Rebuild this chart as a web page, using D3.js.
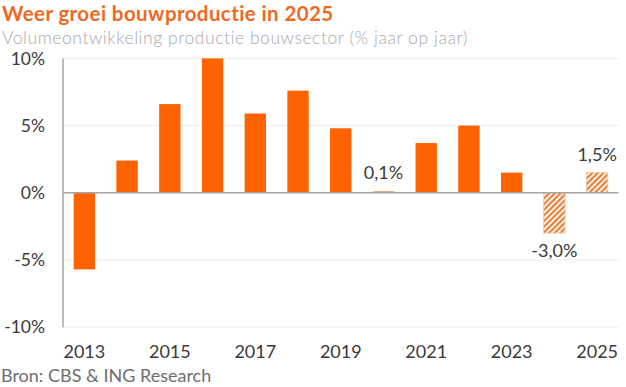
<!DOCTYPE html>
<html>
<head>
<meta charset="utf-8">
<script src="https://cdn.jsdelivr.net/npm/d3@7"></script>
<style>
  html, body { margin: 0; padding: 0; background: #fff; }
  svg { display: block; }
</style>
</head>
<body>
<svg id="chart" width="626" height="387"></svg>
<script>
const years = ["2013","2014","2015","2016","2017","2018","2019","2020","2021","2022","2023","2024","2025"];
const values = [-5.7, 2.4, 6.6, 10.0, 5.9, 7.6, 4.8, 0.1, 3.7, 5.0, 1.5, -3.0, 1.5];
const forecastYears = ["2024", "2025"];
const labelYears = ["2020", "2024", "2025"];
const labelTexts = ["0,1%", "-3,0%", "1,5%"];
const yTicks = [-10, -5, 0, 5, 10];
const xTickYears = ["2013","2015","2017","2019","2021","2023","2025"];
const title = "Weer groei bouwproductie in 2025";
const subtitle = "Volumeontwikkeling productie bouwsector (% jaar op jaar)";
const source = "Bron: CBS & ING Research";

const svg = d3.select("#chart");
const font = "Lato, 'Open Sans', sans-serif";
const orange = "#FF6200";

const x = d3.scaleBand().domain(years).range([63, 618.5]).paddingInner(0.5).paddingOuter(0.25);
const y = d3.scaleLinear().domain([-10, 10]).range([327.2, 58.4]);

// hatch pattern
const defs = svg.append("defs");
const pat = defs.append("pattern")
  .attr("id", "hatch")
  .attr("patternUnits", "userSpaceOnUse")
  .attr("width", 4).attr("height", 4)
  .attr("patternTransform", "rotate(45)");
pat.append("rect").attr("width", 4).attr("height", 4).attr("fill", "#fdf0e4");
pat.append("rect").attr("width", 2).attr("height", 4).attr("fill", "#e8803a");

// titles
svg.append("text").attr("x", 2).attr("y", 21)
  .attr("font-family", font).attr("font-weight", 700).attr("font-size", 20.5)
  .attr("letter-spacing", 0.4)
  .attr("fill", "#ec6a22").text(title);
svg.append("text").attr("x", 2).attr("y", 44)
  .attr("font-family", font).attr("font-weight", 300).attr("font-size", 17.5)
  .attr("letter-spacing", 0.55)
  .attr("fill", "#a9a9a9").text(subtitle);

// gridlines
svg.append("g").selectAll("line").data(yTicks.filter(d => d !== 0)).join("line")
  .attr("x1", 63).attr("x2", 618.5)
  .attr("y1", d => y(d)).attr("y2", d => y(d))
  .attr("stroke", "#ececec").attr("stroke-width", 1);

// y axis labels
const yAxis = d3.axisLeft(y).tickValues(yTicks).tickSize(0).tickPadding(0)
  .tickFormat(d => d + "%");
const gy = svg.append("g").attr("transform", "translate(45,0)").call(yAxis);
gy.select(".domain").remove();
gy.selectAll("text").attr("font-family", font).attr("font-size", 17.5).attr("fill", "#3a3a3a");

// bars
svg.append("g").selectAll("rect").data(years).join("rect")
  .attr("x", d => x(d))
  .attr("width", x.bandwidth())
  .attr("y", (d, i) => y(Math.max(0, values[i])))
  .attr("height", (d, i) => Math.abs(y(values[i]) - y(0)))
  .attr("fill", d => forecastYears.includes(d) ? "url(#hatch)" : orange)
  .attr("stroke", d => forecastYears.includes(d) ? "#f6c49c" : "none")
  .attr("stroke-width", 0.8);

// zero line and left axis line
svg.append("line").attr("x1", 63).attr("x2", 618.5).attr("y1", y(0)).attr("y2", y(0))
  .attr("stroke", "#a6a6a6").attr("stroke-width", 1.5);
svg.append("line").attr("x1", 63).attr("x2", 63).attr("y1", y(10)).attr("y2", y(-10))
  .attr("stroke", "#a6a6a6").attr("stroke-width", 1.5);

// value labels
svg.append("g").selectAll("text").data(labelYears).join("text")
  .attr("x", d => x(d) + x.bandwidth() / 2)
  .attr("y", (d, i) => {
    const v = values[years.indexOf(d)];
    return v >= 0 ? y(v) - 12 : y(v) + 24;
  })
  .attr("text-anchor", "middle")
  .attr("font-family", font).attr("font-size", 18).attr("fill", "#3a3a3a")
  .text((d, i) => labelTexts[i]);

// x axis labels
const xAxis = d3.axisBottom(x).tickValues(xTickYears).tickSize(0).tickPadding(0);
const gx = svg.append("g").attr("transform", "translate(0,345)").call(xAxis);
gx.select(".domain").remove();
gx.selectAll("text").attr("font-family", font).attr("font-size", 18).attr("fill", "#3a3a3a");

// source
svg.append("text").attr("x", 1).attr("y", 382)
  .attr("font-family", font).attr("font-size", 18).attr("fill", "#6e6e6e").text(source);
</script>
</body>
</html>
